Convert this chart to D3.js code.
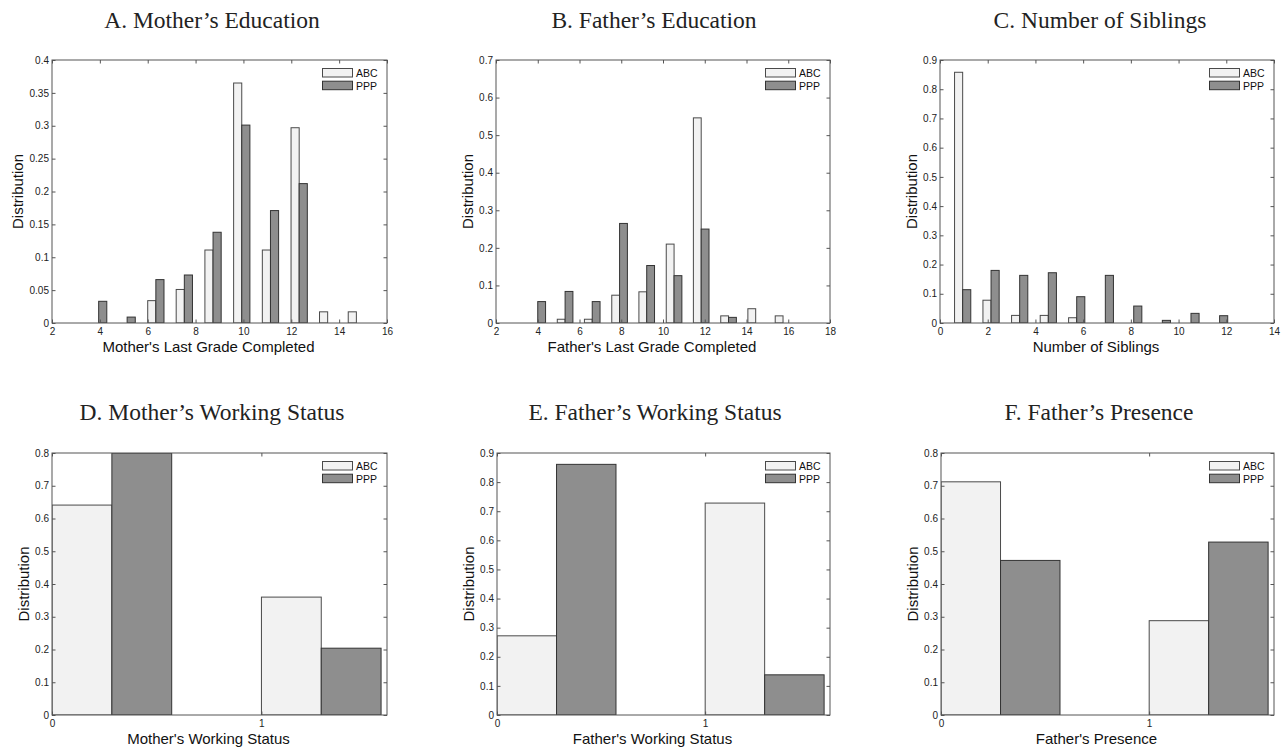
<!DOCTYPE html>
<html>
<head>
<meta charset="utf-8">
<script src="https://cdn.jsdelivr.net/npm/d3@7.9.0/dist/d3.min.js"></script>
<style>
  body { margin: 0; background: #fff; }
  .tick text { font-family: "Liberation Sans", Arial, sans-serif; font-size: 10px; fill: #222; }
  .tick line { stroke: #555; }
</style>
</head>
<body>
<svg id="chart" width="1288" height="752"></svg>
<script>
// bin centres and shares
const motherGradeBins = [3.95, 5.14, 6.34, 7.53, 8.73, 9.93, 11.13, 12.33, 13.52, 14.72];
const motherGradeABC = [0, 0, 0.034, 0.051, 0.111, 0.365, 0.111, 0.297, 0.017, 0.017];
const motherGradePPP = [0.033, 0.009, 0.066, 0.073, 0.138, 0.301, 0.171, 0.212, 0, 0];

const fatherGradeBins = [4.0, 5.31, 6.61, 7.92, 9.22, 10.53, 11.83, 13.14, 14.44, 15.75];
const fatherGradeABC = [0, 0.01, 0.01, 0.074, 0.083, 0.21, 0.546, 0.019, 0.038, 0.019];
const fatherGradePPP = [0.057, 0.084, 0.057, 0.265, 0.153, 0.126, 0.25, 0.015, 0, 0];

const siblingBins = [0.95, 2.14, 3.34, 4.54, 5.73, 6.93, 8.12, 9.32, 10.52, 11.72];
const siblingABC = [0.858, 0.078, 0.026, 0.026, 0.018, 0, 0, 0, 0, 0];
const siblingPPP = [0.114, 0.18, 0.163, 0.172, 0.09, 0.163, 0.058, 0.009, 0.033, 0.025];

const statusBins = [0.286, 1.286];
const motherWorkABC = [0.641, 0.36];
const motherWorkPPP = [0.8, 0.204];
const fatherWorkABC = [0.272, 0.728];
const fatherWorkPPP = [0.861, 0.138];
const fatherPresABC = [0.712, 0.288];
const fatherPresPPP = [0.472, 0.528];

const seriesNames = ['ABC', 'PPP'];
const fills = ['#f2f2f2', '#8e8e8e'];
const strokes = ['#4a4a4a', '#333'];

const panels = [
  { title: 'A. Mother’s Education', xLabel: "Mother's Last Grade Completed",
    bins: motherGradeBins, abc: motherGradeABC, ppp: motherGradePPP,
    xDomain: [2, 16], xTicks: d3.range(2, 17, 2), yMax: 0.4, yCount: 8,
    box: [52, 387, 60, 323], titlePos: [212, 28] },
  { title: 'B. Father’s Education', xLabel: "Father's Last Grade Completed",
    bins: fatherGradeBins, abc: fatherGradeABC, ppp: fatherGradePPP,
    xDomain: [2, 18], xTicks: d3.range(2, 19, 2), yMax: 0.7, yCount: 7,
    box: [496, 830, 60, 323], titlePos: [654, 28] },
  { title: 'C. Number of Siblings', xLabel: 'Number of Siblings',
    bins: siblingBins, abc: siblingABC, ppp: siblingPPP,
    xDomain: [0, 14], xTicks: d3.range(0, 15, 2), yMax: 0.9, yCount: 9,
    box: [940, 1274, 60, 323], titlePos: [1100, 28] },
  { title: 'D. Mother’s Working Status', xLabel: "Mother's Working Status",
    bins: statusBins, abc: motherWorkABC, ppp: motherWorkPPP,
    xDomain: [0, 1.6], xTicks: [0, 1], yMax: 0.8, yCount: 8,
    box: [52, 387, 453, 715], titlePos: [212, 420] },
  { title: 'E. Father’s Working Status', xLabel: "Father's Working Status",
    bins: statusBins, abc: fatherWorkABC, ppp: fatherWorkPPP,
    xDomain: [0, 1.6], xTicks: [0, 1], yMax: 0.9, yCount: 9,
    box: [497, 830, 453, 715], titlePos: [655, 420] },
  { title: 'F. Father’s Presence', xLabel: "Father's Presence",
    bins: statusBins, abc: fatherPresABC, ppp: fatherPresPPP,
    xDomain: [0, 1.6], xTicks: [0, 1], yMax: 0.8, yCount: 8,
    box: [941, 1274, 453, 715], titlePos: [1099, 420] },
];

const svg = d3.select('#chart');
const fmt = d3.format('~g');

panels.forEach((p, idx) => {
  let [x0, x1, y0, y1] = p.box;
  let x = d3.scaleLinear().domain(p.xDomain).range([x0, x1]);
  let y = d3.scaleLinear().domain([0, p.yMax]).range([y1, y0]);
  let g = svg.append('g');

  g.append('clipPath').attr('id', 'clip' + idx)
    .append('rect').attr('x', x0).attr('y', y0).attr('width', x1 - x0).attr('height', y1 - y0);

  // grouped bars: ABC left of the bin centre, PPP right
  let w = (p.bins.length > 1 ? p.bins[1] - p.bins[0] : 1) * 0.2857;
  let bars = g.append('g').attr('clip-path', `url(#clip${idx})`);
  [p.abc, p.ppp].forEach((vals, s) => {
    bars.selectAll(null)
      .data(p.bins.map((c, i) => ({ c, v: vals[i] })).filter(d => d.v > 0))
      .join('rect')
      .attr('x', d => x(s === 0 ? d.c - w : d.c))
      .attr('width', d => x(d.c + w) - x(d.c))
      .attr('y', d => y(d.v))
      .attr('height', d => y(0) - y(d.v))
      .attr('fill', fills[s])
      .attr('stroke', strokes[s])
      .attr('stroke-width', 1);
  });

  // axes with inward ticks on all four sides
  let yTicks = y.ticks(p.yCount);
  g.append('g').attr('transform', `translate(0,${y1})`)
    .call(d3.axisBottom(x).tickValues(p.xTicks).tickFormat(fmt).tickSize(-3.5).tickSizeOuter(0).tickPadding(4.5));
  g.append('g').attr('transform', `translate(0,${y0})`)
    .call(d3.axisTop(x).tickValues(p.xTicks).tickFormat('').tickSize(-3.5).tickSizeOuter(0));
  let left = g.append('g').attr('transform', `translate(${x0},0)`)
    .call(d3.axisLeft(y).tickValues(yTicks).tickFormat(fmt).tickSize(-3.5).tickSizeOuter(0).tickPadding(3));
  g.append('g').attr('transform', `translate(${x1},0)`)
    .call(d3.axisRight(y).tickValues(yTicks).tickFormat('').tickSize(-3.5).tickSizeOuter(0));
  g.selectAll('.domain').remove();

  g.append('rect')
    .attr('x', x0).attr('y', y0).attr('width', x1 - x0).attr('height', y1 - y0)
    .attr('fill', 'none').attr('stroke', '#555').attr('stroke-width', 1);

  let tw = d3.max(left.selectAll('text').nodes(), n => n.getComputedTextLength());

  g.append('text')
    .attr('transform', `translate(${x0 - 3 - tw - 6.5},${(y0 + y1) / 2}) rotate(-90)`)
    .attr('text-anchor', 'middle')
    .style('font-family', '"Liberation Sans", Arial, sans-serif')
    .style('font-size', '15px').attr('fill', '#111')
    .text('Distribution');

  g.append('text')
    .attr('x', (x0 + x1) / 2 - 11).attr('y', y1 + 28.5)
    .attr('text-anchor', 'middle')
    .style('font-family', '"Liberation Sans", Arial, sans-serif')
    .style('font-size', '15px').attr('fill', '#111')
    .text(p.xLabel);

  g.append('text')
    .attr('x', p.titlePos[0]).attr('y', p.titlePos[1])
    .attr('text-anchor', 'middle')
    .style('font-family', '"Liberation Serif", "Times New Roman", serif')
    .style('font-size', '23.5px').attr('fill', '#222')
    .text(p.title);

  // legend
  let lx = x1 - 64.5, ly = y0 + 8.5;
  seriesNames.forEach((name, s) => {
    g.append('rect')
      .attr('x', lx).attr('y', ly + s * 12.7).attr('width', 30).attr('height', 8.5)
      .attr('fill', fills[s]).attr('stroke', strokes[s]).attr('stroke-width', 1);
    g.append('text')
      .attr('x', lx + 33.5).attr('y', ly + s * 12.7 + 8.3)
      .style('font-family', '"Liberation Sans", Arial, sans-serif')
      .style('font-size', '10.5px').attr('fill', '#111')
      .text(name);
  });
});
</script>
</body>
</html>
